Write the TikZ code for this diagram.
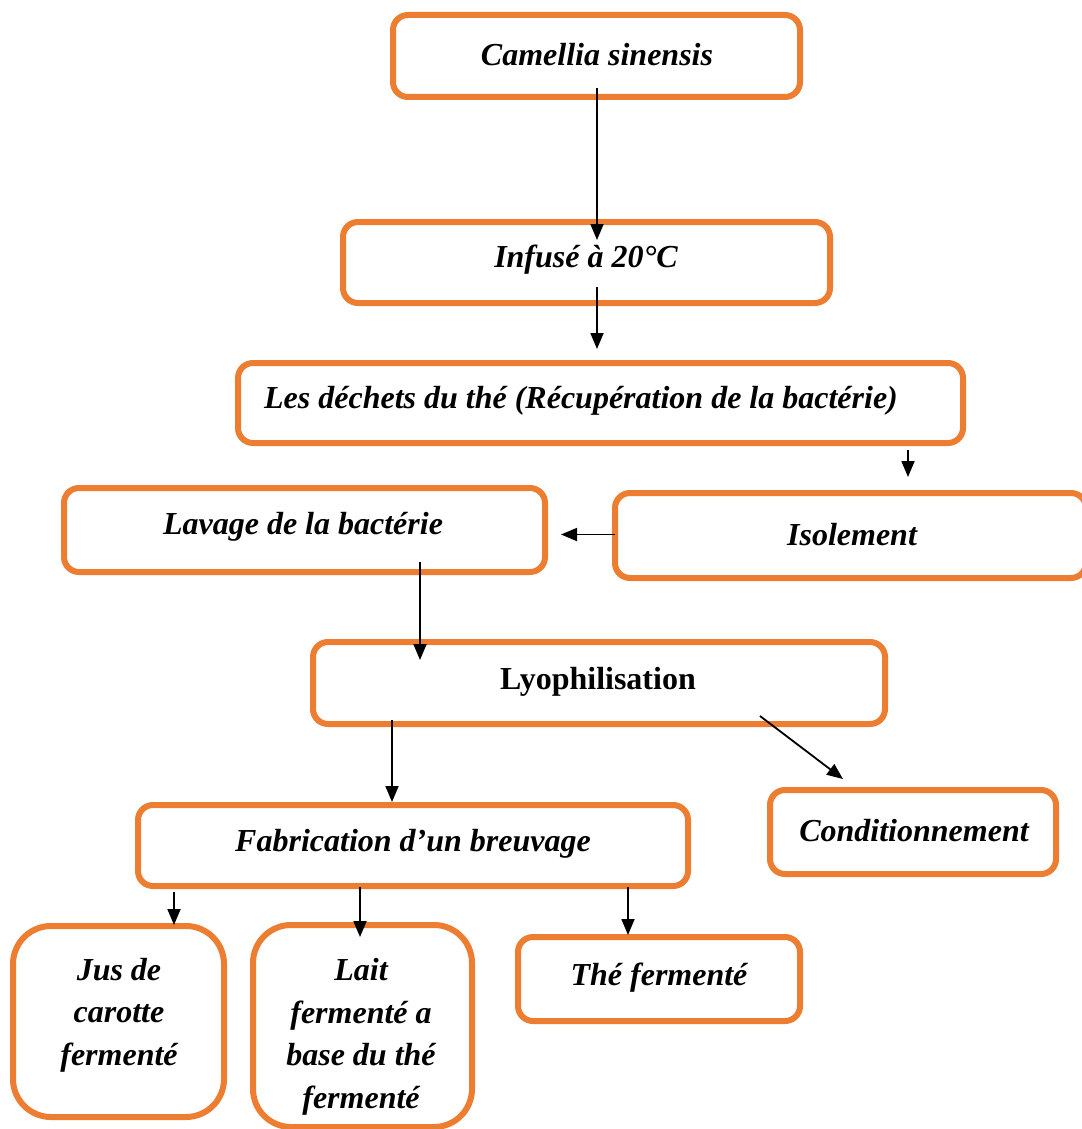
\documentclass[tikz,border=0pt]{standalone}
\usepackage{fontspec}
\setmainfont{Liberation Serif}
\usetikzlibrary{arrows.meta,calc}
\definecolor{boxorange}{HTML}{ED7D31}
\begin{document}
\begin{tikzpicture}[x=1pt,y=-1pt,
  box/.style={draw=boxorange,line width=6pt,rounded corners=15pt,fill=white,inner sep=0pt,outer sep=0pt},
  tallbox/.style={box,rounded corners=38pt},
  txt/.style={font=\fontsize{32}{42.5}\selectfont\bfseries\itshape,inner sep=0pt,align=center},
  arr/.style={line width=1.8pt,-{Triangle[length=16pt,width=13pt]}}]
\useasboundingbox[fill=white] (0,0) rectangle (1081,1129);

% boxes
\node[box,minimum width=407pt,minimum height=82pt] (cam)  at (596.5,56) {};
\node[box,minimum width=487pt,minimum height=81pt] (inf)  at (586.5,262.5) {};
\node[box,minimum width=725pt,minimum height=80pt] (dech) at (600.5,403) {};
\node[box,minimum width=471pt,minimum height=85pt] (iso)  at (850.5,535.5) {};
\node[box,minimum width=481pt,minimum height=84pt] (lav)  at (304.5,530) {};
\node[box,minimum width=572pt,minimum height=82pt] (lyo)  at (599,683) {};
\node[box,minimum width=286pt,minimum height=84pt] (cond) at (913,832) {};
\node[box,minimum width=550pt,minimum height=81pt] (fab)  at (413,845.5) {};
\node[tallbox,minimum width=211pt,minimum height=191pt] (jus)  at (118.5,1021.5) {};
\node[tallbox,minimum width=219pt,minimum height=202pt] (lait) at (362.5,1026) {};
\node[box,minimum width=282pt,minimum height=84pt] (the)  at (659,979) {};

% labels
\node[txt] (camt)  at (597,55)  {Camellia sinensis};
\node[txt] (inft)  at (586,260) {Infusé à 20°C};
\node[txt] (decht) at (581,401) {Les déchets du thé (Récupération de la bactérie)};
\node[txt] (isot)  at (852,535) {Isolement};
\node[txt] (lavt)  at (303,527) {Lavage de la bactérie};
\node[txt,font=\fontsize{32}{42.5}\selectfont\bfseries] (lyot) at (598,682) {Lyophilisation};
\node[txt] (condt) at (914,831) {Conditionnement};
\node[txt] (fabt)  at (413,844) {Fabrication d’un breuvage};
\node[txt] (just)  at (119,1015) {Jus de\\carotte\\fermenté};
\node[txt] (laitt) at (361,1037) {Lait\\fermenté a\\base du thé\\fermenté};
\node[txt] (thet)  at (659,978) {Thé fermenté};

% connectors
\draw[arr] ($(cam.south)+(0.5,-9)$) -- ($(inf.north)+(10.5,18)$);
\draw[arr] ($(inf.south)+(10.5,-16)$) -- ($(dech.north)+(-3.5,-14)$);
\draw[arr] ($(dech.south)+(307.5,7)$) -- ($(iso.north)+(57.5,-16)$);
\draw[arr] ($(iso.west)+(0,-1)$) -- ($(lav.east)+(16,4.5)$);
\draw[arr] ($(lav.south)+(115.5,-10)$) -- ($(lyo.north)+(-179,18)$);
\draw[arr] ($(lyo.south)+(-207,-4)$) -- ($(fab.north)+(-21,-3)$);
\draw[arr] ($(lyo.south)+(161,-8)$) -- ($(cond.north)+(-70,-11)$);
\draw[arr] ($(fab.south)+(-239,6)$) -- ($(jus.north)+(55.5,-1)$);
\draw[arr] ($(fab.south)+(-53,1)$) -- ($(lait.north)+(-2.5,12)$);
\draw[arr] ($(fab.south)+(215,1)$) -- ($(the.north)+(-31,-2)$);
\end{tikzpicture}
\end{document}
